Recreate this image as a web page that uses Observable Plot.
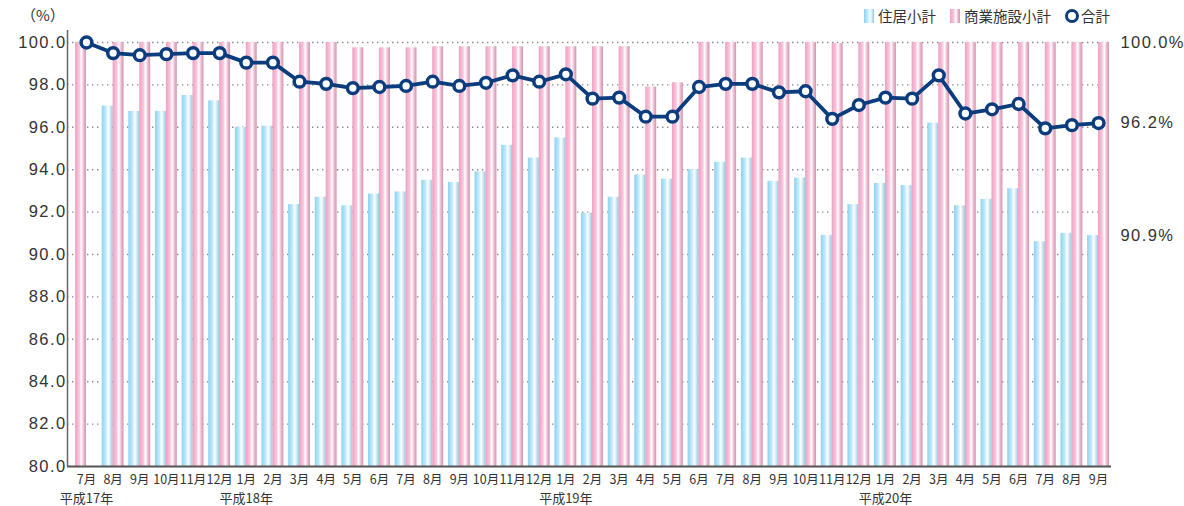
<!DOCTYPE html>
<html>
<head>
<meta charset="utf-8">
<script src="https://cdn.jsdelivr.net/npm/d3@7"></script>
<script src="https://cdn.jsdelivr.net/npm/@observablehq/plot@0.6"></script>
<style>
  html, body { margin: 0; padding: 0; background: #fff; }
  body { width: 1184px; height: 506px; overflow: hidden; font-family: "Noto Sans CJK JP", "Liberation Sans", sans-serif; color: #333; }
  #header { position: relative; height: 30px; }
  #unit { position: absolute; left: 21px; top: 4px; font-size: 15px; color: #333; }
  #legend { position: absolute; right: 74px; top: 9px; display: flex; align-items: center; font-size: 14.5px; color: #333; line-height: 1; }
  .sw { display: inline-block; width: 10px; height: 14px; margin-right: 4px; }
  .sw.blue { background: linear-gradient(to right, #8ad2f2 0%, #d2effb 45%, #ffffff 60%, #bce1f2 85%, #96c3dc 100%); }
  .sw.pink { background: linear-gradient(to right, #f09fc2 0%, #f7c9dd 40%, #ffffff 58%, #ecb8cf 80%, #d093b0 100%); }
  .sw.dot { width: 8px; height: 8px; border: 3px solid #0b3d7e; border-radius: 50%; background: #fff; margin-right: 2px; }
  .item { display: flex; align-items: center; margin-left: 14px; }
  svg g[aria-label="y-axis tick label"] text { letter-spacing: 1.4px; }
</style>
</head>
<body>
<div id="header">
  <div id="unit">（%）</div>
  <div id="legend">
    <span class="item"><span class="sw blue"></span>住居小計</span>
    <span class="item"><span class="sw pink"></span>商業施設小計</span>
    <span class="item"><span class="sw dot"></span>合計</span>
  </div>
</div>
<div id="chart"></div>
<script>
// ---- data ----
const monthLabels = ["7月","8月","9月","10月","11月","12月",
  "1月","2月","3月","4月","5月","6月","7月","8月","9月","10月","11月","12月",
  "1月","2月","3月","4月","5月","6月","7月","8月","9月","10月","11月","12月",
  "1月","2月","3月","4月","5月","6月","7月","8月","9月"];
const yearTickIndex = [0, 6, 18, 30];
const yearLabels = ["平成17年", "平成18年", "平成19年", "平成20年"];

const housing = [null, 97.0, 96.75, 96.75, 97.5, 97.25, 96.0, 96.05, 92.35, 92.7,
  92.3, 92.85, 92.95, 93.5, 93.4, 93.9, 95.15, 94.55, 95.5, 91.95,
  92.7, 93.75, 93.55, 94.0, 94.35, 94.55, 93.45, 93.6, 90.9, 92.35,
  93.35, 93.25, 96.2, 92.3, 92.6, 93.1, 90.6, 91.0, 90.9];
const commercial = [100, 100, 100, 100, 100, 100, 100, 100, 100, 100,
  99.75, 99.75, 99.75, 99.8, 99.8, 99.8, 99.8, 99.8, 99.8, 99.8,
  99.8, 97.9, 98.1, 100, 100, 100, 100, 100, 99.95, 100,
  100, 100, 100, 100, 100, 100, 100, 100, 100];
const total = [100.0, 99.5, 99.4, 99.45, 99.5, 99.5, 99.05, 99.05, 98.15, 98.05,
  97.85, 97.9, 97.95, 98.15, 97.95, 98.1, 98.45, 98.15, 98.5, 97.35,
  97.4, 96.5, 96.5, 97.9, 98.05, 98.05, 97.65, 97.7, 96.4, 97.05,
  97.4, 97.35, 98.45, 96.65, 96.85, 97.1, 95.95, 96.1, 96.2];
const yTicks = [80, 82, 84, 86, 88, 90, 92, 94, 96, 98, 100];

// ---- build table ----
const rows = monthLabels.map((m, i) => ({i, month: m, housing: housing[i], commercial: commercial[i], total: total[i]}));
const last = rows[rows.length - 1];
const rightTicks = [last.commercial, last.total, last.housing];

const barW = 0.41;
const navy = "#0b3d7e";
const xDomain = [-0.713, 38.487];

const chart = Plot.plot({
  width: 1184,
  height: 476,
  marginTop: 12,
  marginBottom: 40,
  marginLeft: 67,
  marginRight: 73,
  style: {fontFamily: "'Liberation Sans', 'Noto Sans CJK JP', sans-serif", color: "#333", background: "#fff"},
  x: {type: "linear", domain: xDomain},
  y: {domain: [80, 100]},
  marks: [
    Plot.gridY({ticks: yTicks.filter(t => t > 80), stroke: "#8a8a8a", strokeOpacity: 1, strokeWidth: 1.4, strokeDasharray: "1.4,3.6"}),
    Plot.rectY(rows.filter(d => d.housing != null), {
      x1: d => d.i - barW, x2: d => d.i, y1: 80, y2: "housing", fill: "url(#gBlue)"
    }),
    Plot.rectY(rows, {
      x1: d => d.housing == null ? d.i - barW : d.i,
      x2: d => d.housing == null ? d.i : d.i + barW,
      y1: 80, y2: "commercial", fill: "url(#gPink)"
    }),
    Plot.ruleY([80], {stroke: "#555", strokeWidth: 2}),
    Plot.ruleX([xDomain[0]], {y1: 80, y2: 100.95, stroke: "#666", strokeWidth: 1.5}),
    Plot.line(rows, {x: "i", y: "total", stroke: navy, strokeWidth: 3.8}),
    Plot.dot(rows, {x: "i", y: "total", r: 5.4, fill: "white", stroke: navy, strokeWidth: 3.5}),
    Plot.axisY({ticks: yTicks, tickFormat: d => d.toFixed(1), tickSize: 0, tickPadding: 1, fontSize: 16.5, anchor: "left", label: null}),
    Plot.axisY({ticks: rightTicks, tickFormat: d => d.toFixed(1) + "%", tickSize: 0, tickPadding: 9, fontSize: 16.5, anchor: "right", label: null}),
    Plot.axisX({ticks: rows.map(d => d.i), tickFormat: i => monthLabels[i], tickSize: 0, tickPadding: 9, fontSize: 12.5, fontFamily: "'Noto Sans CJK JP', sans-serif", label: null}),
    Plot.axisX({ticks: yearTickIndex, tickFormat: i => yearLabels[yearTickIndex.indexOf(i)], tickSize: 0, tickPadding: 27, fontSize: 13, fontFamily: "'Noto Sans CJK JP', sans-serif", label: null})
  ]
});

const defs = d3.select(chart).insert("defs", ":first-child");
const gb = defs.append("linearGradient").attr("id", "gBlue").attr("x1", 0).attr("x2", 1).attr("y1", 0).attr("y2", 0);
[["0%", "#8ad2f2"], ["40%", "#c6ebfa"], ["60%", "#ffffff"], ["85%", "#bce1f2"], ["100%", "#96c3dc"]]
  .forEach(([o, c]) => gb.append("stop").attr("offset", o).attr("stop-color", c));
const gp = defs.append("linearGradient").attr("id", "gPink").attr("x1", 0).attr("x2", 1).attr("y1", 0).attr("y2", 0);
[["0%", "#f09fc2"], ["38%", "#f6c7dc"], ["57%", "#ffffff"], ["80%", "#ecb8cf"], ["100%", "#d093b0"]]
  .forEach(([o, c]) => gp.append("stop").attr("offset", o).attr("stop-color", c));

document.getElementById("chart").appendChild(chart);
</script>
</body>
</html>
